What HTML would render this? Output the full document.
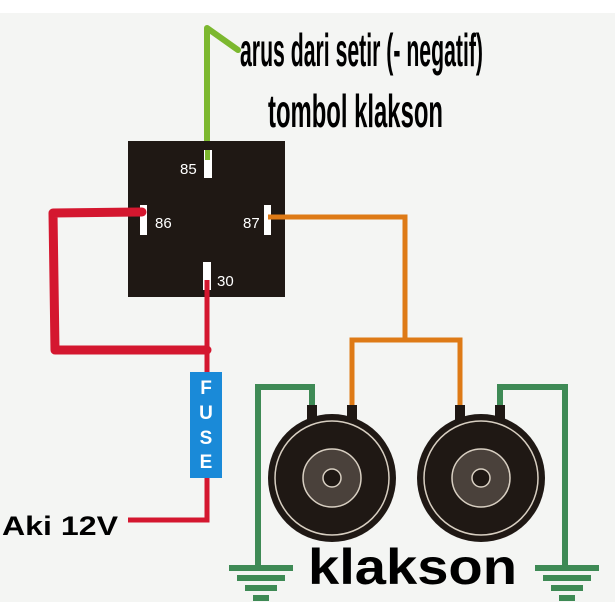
<!DOCTYPE html>
<html><head><style>
html,body{margin:0;padding:0;background:#fff;}
svg{display:block;}
</style></head><body>
<svg width="615" height="615" viewBox="0 0 615 615" xmlns="http://www.w3.org/2000/svg">
<rect x="0" y="13" width="615" height="589" fill="#f4f5f3"/>
<polyline points="207,155 207,28 238,50" fill="none" stroke="#7cb82f" stroke-width="6" stroke-linejoin="round" stroke-linecap="round"/>
<rect x="128" y="141" width="157" height="156" fill="#1f1814"/>
<rect x="204" y="150" width="8" height="28" fill="#fff"/>
<rect x="140" y="205" width="7" height="30" fill="#fff"/>
<rect x="264" y="205" width="7" height="30" fill="#fff"/>
<rect x="203" y="262" width="8" height="28" fill="#fff"/>
<rect x="205" y="150" width="5" height="10" fill="#7cb82f"/>
<g font-family="Liberation Sans, sans-serif" font-size="15" fill="#fff">
<text x="180" y="174">85</text><text x="155" y="228">86</text><text x="243" y="228">87</text><text x="217" y="286">30</text>
</g>
<polyline points="142,212 53,213 55,350 207,350" fill="none" stroke="#d4172f" stroke-width="9" stroke-linejoin="round" stroke-linecap="round"/>
<polyline points="207,280 207,372" fill="none" stroke="#d4172f" stroke-width="5"/>
<polyline points="207,478 207,520 128,520" fill="none" stroke="#d4172f" stroke-width="5"/>
<rect x="190" y="372" width="32" height="106" fill="#1a8ad8"/>
<g font-family="Liberation Sans, sans-serif" font-size="19" font-weight="bold" fill="#fff" text-anchor="middle">
<text x="206" y="394">F</text><text x="206" y="419">U</text><text x="206" y="444">S</text><text x="206" y="468">E</text>
</g>
<polyline points="268,217 405,217 405,340" fill="none" stroke="#de7a16" stroke-width="5"/>
<polyline points="352,410 352,340 460,340 460,410" fill="none" stroke="#de7a16" stroke-width="5"/>
<polyline points="312,410 312,387 258,387 258,568" fill="none" stroke="#3e8a55" stroke-width="6"/>
<polyline points="500,410 500,387 565,387 565,568" fill="none" stroke="#3e8a55" stroke-width="6"/>
<g fill="#3e8a55">
<rect x="229" y="565" width="64" height="6"/><rect x="237" y="575" width="48" height="6"/><rect x="245" y="585" width="32" height="6"/><rect x="253" y="595" width="16" height="6"/>
<rect x="535" y="565" width="64" height="6"/><rect x="543" y="575" width="48" height="6"/><rect x="551" y="585" width="32" height="6"/><rect x="559" y="595" width="16" height="6"/>
</g>
<g>
<rect x="307" y="405" width="10" height="16" fill="#1f1814"/><rect x="347" y="405" width="10" height="16" fill="#1f1814"/>
<circle cx="332" cy="478" r="64" fill="#1f1814"/>
<circle cx="332" cy="478" r="57" fill="none" stroke="#d8cfc2" stroke-width="1.5"/>
<circle cx="332" cy="478" r="29" fill="#4a413b" stroke="#d8cfc2" stroke-width="1.5"/>
<circle cx="332" cy="478" r="9" fill="#1f1814" stroke="#d8cfc2" stroke-width="1.5"/>
<rect x="455" y="405" width="10" height="16" fill="#1f1814"/><rect x="495" y="405" width="10" height="16" fill="#1f1814"/>
<circle cx="481" cy="478" r="64" fill="#1f1814"/>
<circle cx="481" cy="478" r="57" fill="none" stroke="#d8cfc2" stroke-width="1.5"/>
<circle cx="481" cy="478" r="29" fill="#4a413b" stroke="#d8cfc2" stroke-width="1.5"/>
<circle cx="481" cy="478" r="9" fill="#1f1814" stroke="#d8cfc2" stroke-width="1.5"/>
</g>
<g font-family="Liberation Sans, sans-serif" font-weight="bold" fill="#000">
<text x="240" y="66" font-size="46" textLength="243" lengthAdjust="spacingAndGlyphs">arus dari setir (- negatif)</text>
<text x="268" y="127" font-size="46" textLength="175" lengthAdjust="spacingAndGlyphs">tombol klakson</text>
<text x="2" y="535" font-size="27" textLength="116" lengthAdjust="spacingAndGlyphs">Aki 12V</text>
<text x="308" y="584" font-size="50" textLength="209" lengthAdjust="spacingAndGlyphs">klakson</text>
</g>
</svg>
</body></html>
